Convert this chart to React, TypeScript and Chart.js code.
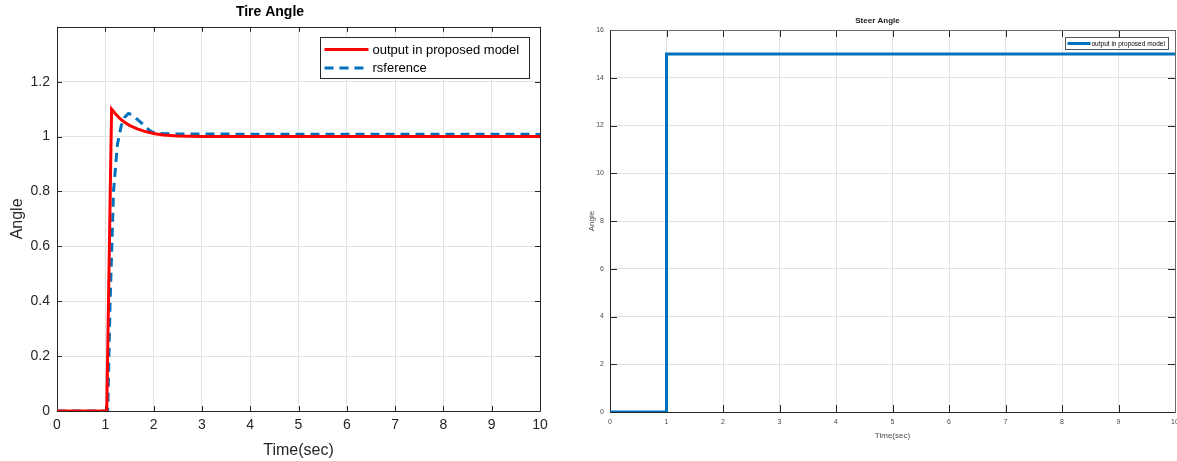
import React, { useEffect, useRef } from 'react';
import { Chart, registerables } from 'chart.js';

Chart.register(...registerables);

// ---------- data ----------
const tireTimeOutput = [0, 1.0, 1.03, 1.13, 1.2, 1.3, 1.4, 1.5, 1.65, 1.8, 2.0, 2.2, 2.5, 3.0, 4.0, 10.0];
const tireOutput = [0, 0, 0, 1.1, 1.085, 1.066, 1.052, 1.041, 1.029, 1.02, 1.011, 1.006, 1.002, 1.0, 1.0, 1.0];

const tireTimeRef = [0, 1.03, 1.05, 1.1, 1.17, 1.25, 1.33, 1.4, 1.48, 1.55, 1.62, 1.68, 1.78, 1.88, 1.95, 2.05, 2.3, 3.0, 10.0];
const tireRef = [0, 0, 0, 0.4, 0.8, 0.97, 1.04, 1.07, 1.084, 1.08, 1.07, 1.06, 1.045, 1.028, 1.018, 1.012, 1.01, 1.009, 1.008];

const steerTime = [0, 1, 1, 10];
const steerOutput = [0, 0, 15, 15];

const timeTicks = [0, 1, 2, 3, 4, 5, 6, 7, 8, 9, 10];
const tireAngleTicks = [0, 0.2, 0.4, 0.6, 0.8, 1, 1.2];
const steerAngleTicks = [0, 2, 4, 6, 8, 10, 12, 14, 16];

const tireTitle = 'Tire Angle';
const steerTitle = 'Steer Angle';
const xTitle = 'Time(sec)';
const yTitle = 'Angle';
const outputLabel = 'output in proposed model';
const refLabel = 'rsference';

const FONT = '"Liberation Sans", Arial, Helvetica, sans-serif';

const toPoints = (xs: number[], ys: number[]) => xs.map((x, i) => ({ x, y: ys[i] }));

// ---------- plugins ----------
const frameTicks = {
  id: 'frameTicks',
  beforeDatasetsDraw(chart: any, _args: any, opts: any) {
    const { ctx, chartArea } = chart;
    const { left, right, top, bottom } = chartArea;
    const xs = chart.scales.x;
    const ys = chart.scales.y;
    const L = opts.tickLen || 5;
    ctx.save();
    ctx.lineWidth = 1;
    ctx.strokeStyle = opts.color || '#262626';
    ctx.beginPath();
    xs.ticks.forEach((t: any) => {
      const px = Math.round(xs.getPixelForValue(t.value)) + 0.5;
      ctx.moveTo(px, bottom);
      ctx.lineTo(px, bottom - L);
      ctx.moveTo(px, top);
      ctx.lineTo(px, top + L);
    });
    ys.ticks.forEach((t: any) => {
      const py = Math.round(ys.getPixelForValue(t.value)) + 0.5;
      ctx.moveTo(left, py);
      ctx.lineTo(left + L, py);
      ctx.moveTo(right, py);
      ctx.lineTo(right - L, py);
    });
    ctx.stroke();
    const l = Math.round(left) + 0.5;
    const r = Math.round(right) + 0.5;
    const t = Math.round(top) + 0.5;
    const b = Math.round(bottom) + 0.5;
    ctx.strokeStyle = opts.color || '#262626';
    ctx.beginPath();
    ctx.moveTo(l, t);
    ctx.lineTo(l, b);
    ctx.lineTo(r, b);
    ctx.stroke();
    ctx.strokeStyle = opts.farColor || opts.color || '#262626';
    ctx.beginPath();
    ctx.moveTo(l, t);
    ctx.lineTo(r, t);
    ctx.lineTo(r, b);
    ctx.stroke();
    ctx.restore();
  },
};

const boxLegend = {
  id: 'boxLegend',
  afterDatasetsDraw(chart: any, _args: any, opts: any) {
    const { ctx, chartArea } = chart;
    const w = opts.width;
    const h = opts.height;
    const x0 = Math.round(chartArea.right - opts.offsetRight - w) + 0.5;
    const y0 = Math.round(chartArea.top + opts.offsetTop) + 0.5;
    ctx.save();
    ctx.fillStyle = '#ffffff';
    ctx.fillRect(x0, y0, w, h);
    ctx.lineWidth = 1;
    ctx.strokeStyle = opts.borderColor || '#262626';
    ctx.strokeRect(x0, y0, w, h);
    ctx.font = `${opts.fontSize}px ${FONT}`;
    ctx.textBaseline = 'middle';
    ctx.textAlign = 'left';
    chart.data.datasets.forEach((ds: any, i: number) => {
      const cy = y0 + opts.rowFirst + i * opts.rowStep;
      ctx.beginPath();
      ctx.setLineDash(ds.borderDash || []);
      ctx.lineWidth = ds.borderWidth;
      ctx.strokeStyle = ds.borderColor;
      ctx.moveTo(x0 + opts.lineStart, cy);
      ctx.lineTo(x0 + opts.lineEnd, cy);
      ctx.stroke();
      ctx.setLineDash([]);
      ctx.fillStyle = '#000000';
      ctx.fillText(ds.label, x0 + opts.textX, cy + 0.5);
    });
    ctx.restore();
  },
};

// ---------- charts ----------
function TireChart() {
  const ref = useRef<HTMLCanvasElement | null>(null);
  useEffect(() => {
    if (!ref.current) return;
    const chart = new Chart(ref.current, {
      type: 'line',
      data: {
        datasets: [
          {
            label: outputLabel,
            data: toPoints(tireTimeOutput, tireOutput),
            borderColor: '#FF0000',
            borderWidth: 3,
            pointRadius: 0,
            tension: 0,
          },
          {
            label: refLabel,
            data: toPoints(tireTimeRef, tireRef),
            borderColor: '#0072BD',
            borderWidth: 3,
            borderDash: [9, 6],
            pointRadius: 0,
            tension: 0,
          },
        ],
      },
      options: {
        responsive: false,
        animation: false,
        layout: { padding: { left: 0, right: 40, top: 0, bottom: 0 } },
        scales: {
          x: {
            type: 'linear',
            min: 0,
            max: 10,
            afterBuildTicks: (s: any) => {
              s.ticks = timeTicks.map((v) => ({ value: v }));
            },
            afterFit: (s: any) => {
              s.height = 50;
            },
            ticks: {
              font: { family: FONT, size: 14 },
              color: '#262626',
              padding: 6,
              maxRotation: 0,
              callback: (v: any) => String(v),
            },
            grid: { color: '#e2e2e2', drawTicks: false },
            border: { display: false },
            title: {
              display: true,
              text: xTitle,
              font: { family: FONT, size: 16 },
              color: '#262626',
              padding: { top: 0, bottom: 1 },
            },
          },
          y: {
            type: 'linear',
            min: 0,
            max: 1.4,
            afterBuildTicks: (s: any) => {
              s.ticks = tireAngleTicks.map((v) => ({ value: v }));
            },
            afterFit: (s: any) => {
              s.width = 57;
            },
            ticks: {
              font: { family: FONT, size: 14 },
              color: '#262626',
              padding: 7,
              callback: (v: any) => String(Math.round(Number(v) * 10) / 10),
            },
            grid: { color: '#e2e2e2', drawTicks: false },
            border: { display: false },
            title: {
              display: true,
              text: yTitle,
              font: { family: FONT, size: 16 },
              color: '#262626',
              padding: { top: 8, bottom: 0 },
            },
          },
        },
        plugins: {
          legend: { display: false },
          tooltip: { enabled: false },
          title: {
            display: true,
            text: tireTitle,
            font: { family: FONT, size: 14, weight: 'bold' },
            color: '#000000',
            padding: { top: 4, bottom: 6 },
          },
          frameTicks: { color: '#262626', tickLen: 5 },
          boxLegend: {
            width: 209,
            height: 41,
            offsetRight: 11,
            offsetTop: 10,
            rowFirst: 12,
            rowStep: 18.5,
            lineStart: 4,
            lineEnd: 48,
            textX: 52,
            fontSize: 13,
          },
        } as any,
      },
      plugins: [frameTicks, boxLegend],
    } as any);
    return () => chart.destroy();
  }, []);
  return <canvas ref={ref} width={580} height={461} style={{ display: 'block' }} />;
}

function SteerChart() {
  const ref = useRef<HTMLCanvasElement | null>(null);
  useEffect(() => {
    if (!ref.current) return;
    const chart = new Chart(ref.current, {
      type: 'line',
      data: {
        datasets: [
          {
            label: outputLabel,
            data: toPoints(steerTime, steerOutput),
            borderColor: '#0072BD',
            borderWidth: 3,
            pointRadius: 0,
            tension: 0,
          },
        ],
      },
      options: {
        responsive: false,
        animation: false,
        layout: { padding: { left: 0, right: 15, top: 0, bottom: 0 } },
        scales: {
          x: {
            type: 'linear',
            min: 0,
            max: 10,
            afterBuildTicks: (s: any) => {
              s.ticks = timeTicks.map((v) => ({ value: v }));
            },
            afterFit: (s: any) => {
              s.height = 49;
            },
            ticks: {
              font: { family: FONT, size: 7 },
              color: '#4a4a4a',
              padding: 6,
              maxRotation: 0,
              callback: (v: any) => String(v),
            },
            grid: { color: '#e2e2e2', drawTicks: false },
            border: { display: false },
            title: {
              display: true,
              text: xTitle,
              font: { family: FONT, size: 8 },
              color: '#4a4a4a',
              padding: { top: 0, bottom: 20 },
            },
          },
          y: {
            type: 'linear',
            min: 0,
            max: 16,
            afterBuildTicks: (s: any) => {
              s.ticks = steerAngleTicks.map((v) => ({ value: v }));
            },
            afterFit: (s: any) => {
              s.width = 30;
            },
            ticks: {
              font: { family: FONT, size: 7 },
              color: '#4a4a4a',
              padding: 6,
              callback: (v: any) => String(v),
            },
            grid: { color: '#e2e2e2', drawTicks: false },
            border: { display: false },
            title: {
              display: true,
              text: yTitle,
              font: { family: FONT, size: 8 },
              color: '#4a4a4a',
              padding: { top: 7, bottom: 0 },
            },
          },
        },
        plugins: {
          legend: { display: false },
          tooltip: { enabled: false },
          title: {
            display: true,
            text: steerTitle,
            font: { family: FONT, size: 8, weight: 'bold' },
            color: '#1a1a1a',
            padding: { top: 16, bottom: 4.4 },
          },
          frameTicks: { color: '#262626', farColor: '#6a6a6a', tickLen: 7 },
          boxLegend: {
            width: 103,
            height: 12,
            offsetRight: 7,
            offsetTop: 7,
            rowFirst: 6,
            rowStep: 10,
            lineStart: 2,
            lineEnd: 25,
            textX: 26,
            fontSize: 6.5,
            borderColor: '#555555',
          },
        } as any,
      },
      plugins: [frameTicks, boxLegend],
    } as any);
    return () => chart.destroy();
  }, []);
  return <canvas ref={ref} width={610} height={461} style={{ display: 'block' }} />;
}

export default function App() {
  return (
    <div
      style={{
        position: 'fixed',
        left: 0,
        top: 0,
        width: 1177,
        height: 461,
        overflow: 'hidden',
        background: '#ffffff',
      }}
    >
      <div style={{ position: 'absolute', left: 0, top: 0, width: 580, height: 461 }}>
        <TireChart />
      </div>
      <div style={{ position: 'absolute', left: 580, top: 0, width: 610, height: 461 }}>
        <SteerChart />
      </div>
    </div>
  );
}
